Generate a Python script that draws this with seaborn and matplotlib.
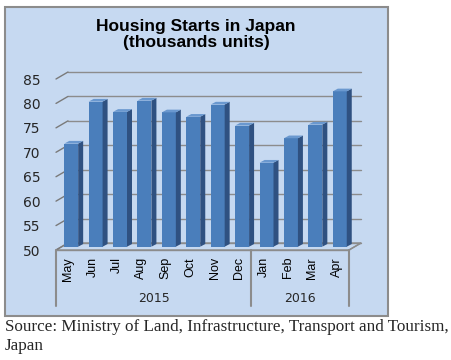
import matplotlib
matplotlib.use("Agg")
import matplotlib.pyplot as plt
import matplotlib.transforms as mtransforms
from matplotlib.patches import Rectangle, Polygon
import seaborn as sns

# Housing starts, thousands of units
months = ["May", "Jun", "Jul", "Aug", "Sep", "Oct", "Nov", "Dec",
          "Jan", "Feb", "Mar", "Apr"]
starts = [71.1, 79.7, 77.6, 79.9, 77.5, 76.6, 79.1, 74.8,
          67.2, 72.2, 75.0, 81.8]
years = ["2015", "2016"]
year_spans = [(0, 7), (8, 11)]
yticks = [50, 55, 60, 65, 70, 75, 80, 85]

W, H = 452, 360
BG = "#c6d9f1"
GRID = "#8c8c8c"

sns.set_style("white")
plt.rcParams["font.family"] = ["Liberation Sans", "DejaVu Sans"]

fig = plt.figure(figsize=(W / 100, H / 100), dpi=100)
frame = Rectangle((5 / W, 1 - 316 / H), 383 / W, 309 / H,
                  transform=fig.transFigure, fc=BG, ec=GRID, lw=1.5, zorder=-10)
fig.add_artist(frame)

ax = fig.add_axes([56 / W, 110 / H, 293 / W, 171 / H])
ax.set_facecolor("none")

ax.set_ylim(50, 85)
px_x = 293 / 12      # pixels per category
px_y = 171 / 35      # pixels per unit

# depth of the back wall
bx, by = 12 / px_x, 7 / px_y

# floor
ax.add_patch(Polygon([(-0.5, 50), (11.5, 50), (11.5 + bx, 50 + by), (-0.5 + bx, 50 + by)],
                     closed=True, fc=BG, ec=GRID, lw=1, clip_on=False, zorder=1))

# back gridlines and left wall ticks
for y in yticks:
    ax.plot([-0.5 + bx, 11.5 + bx], [y + by, y + by], color=GRID, lw=1,
            clip_on=False, zorder=1)
    ax.plot([-0.5, -0.5 + bx], [y, y + by], color="#7a7a7a", lw=1,
            clip_on=False, zorder=1)

sns.barplot(x=months, y=starts, color="#4a7ebb", saturation=1, width=0.57,
            ax=ax, zorder=3)

shift = ax.transData + mtransforms.ScaledTranslation(3 / 100, 3.3 / 100, fig.dpi_scale_trans)
dx, dy = 5 / px_x, 2.7 / px_y
for bar, v in zip(ax.patches[-len(starts):], starts):
    bar.set_y(50)
    bar.set_height(v - 50)
    bar.set_transform(shift)
    bar.set_clip_on(False)
    bar.set_edgecolor("none")
    x0 = bar.get_x()
    x1 = x0 + bar.get_width()
    side = Polygon([(x1, 50), (x1 + dx, 50 + dy), (x1 + dx, v + dy), (x1, v)],
                   closed=True, fc="#2f5181", ec="none", transform=shift,
                   clip_on=False, zorder=3)
    top = Polygon([(x0, v), (x0 + dx, v + dy), (x1 + dx, v + dy), (x1, v)],
                  closed=True, fc="#6a98cf", ec="none", transform=shift,
                  clip_on=False, zorder=3)
    ax.add_patch(side)
    ax.add_patch(top)

# category box under the axis
y_low = 50 - 56 / px_y
for xs in [-0.5, 7.5, 11.5]:
    ax.plot([xs, xs], [50, y_low], color=GRID, lw=1.5, clip_on=False, zorder=2)
ax.plot([-0.5, 11.5], [50, 50], color=GRID, lw=1, clip_on=False, zorder=2)
ax.plot([11.5, 11.5 + bx], [50, 50 + by], color=GRID, lw=1, clip_on=False, zorder=2)

y_year = 50 - 48 / px_y
for name, (a, b) in zip(years, year_spans):
    ax.text((a + b) / 2, y_year, name, ha="center", va="center", fontsize=9,
            family="DejaVu Sans", color="#262626")

ax.set_xlim(-0.5, 11.5)
ax.set_yticks(yticks)
ax.set_xlabel("")
ax.set_ylabel("")
ax.tick_params(axis="x", length=0, pad=5, labelrotation=90, labelsize=9,
               labelcolor="black")
ax.tick_params(axis="y", length=0, pad=11, labelsize=10, labelcolor="#262626")
for lab in ax.get_yticklabels():
    lab.set_family("DejaVu Sans")
sns.despine(ax=ax, left=True, bottom=True)

fig.text(196 / W, 1 - 27 / H, "Housing Starts in Japan", ha="center", va="center",
         fontsize=12.5, fontweight="bold", color="black")
fig.text(196 / W, 1 - 43 / H, "(thousands units)", ha="center", va="center",
         fontsize=12.5, fontweight="bold", color="black")

fig.text(5 / W, 1 - 327 / H, "Source: Ministry of Land, Infrastructure, Transport and Tourism,",
         ha="left", va="center", fontsize=12.3, family="Liberation Serif")
fig.text(5 / W, 1 - 346 / H, "Japan", ha="left", va="center", fontsize=12.3,
         family="Liberation Serif")

fig.savefig("out.png", dpi=100)
